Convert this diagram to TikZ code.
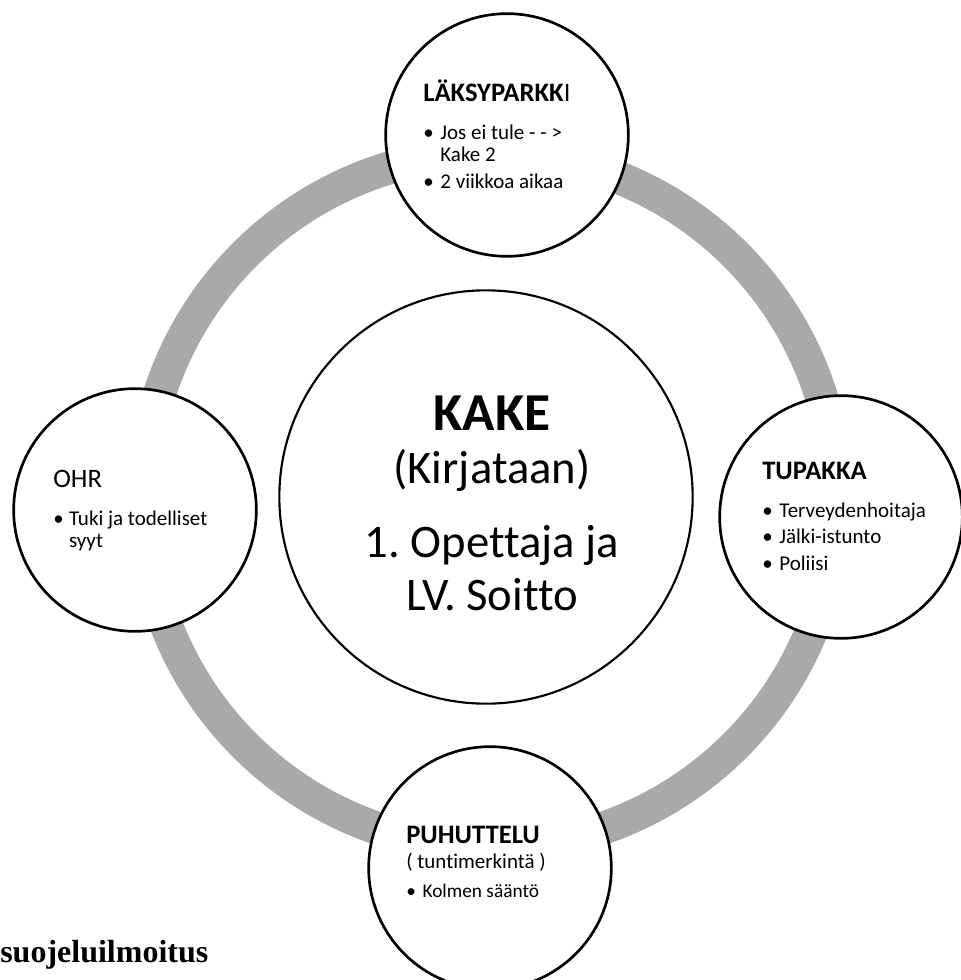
\documentclass[tikz,border=0pt]{standalone}
\usepackage{fontspec}
\setmainfont{Carlito}[Ligatures=NoCommon]
\newfontfamily\timesfont{Liberation Serif}
\usetikzlibrary{positioning}
\frenchspacing

\definecolor{ringgray}{RGB}{169,169,169}
\newcommand{\headsize}{\fontsize{20}{22}\selectfont}
\tikzset{
  bubble/.style={circle, draw=black, fill=white, line width=2pt, minimum size=182pt, inner sep=0pt},
  hub/.style={bubble, line width=1.6pt, minimum size=310pt},
  blurb/.style={inner sep=0pt, anchor=base west, font=\fontsize{15.75}{16.5}\selectfont}
}

\begin{document}
\begin{tikzpicture}[x=0.75pt, y=-0.75pt]
\useasboundingbox (0,0) rectangle (960,980);

% the grey ring behind everything
\coordinate (mid) at (490,500);
\draw[ringgray, line width=24.75pt] (mid) circle [radius=260.25pt];

% circles
\node[bubble] (parkki) at (507,135) {};
\node[bubble] (tupakka) at (841,517) {};
\node[bubble] (ohr) at (135,510) {};
\node[bubble] (puhuttelu) at (490,868) {};
\node[hub] (kake) at (486,497) {};

% texts
\node[inner sep=0pt, anchor=base, font=\fontsize{35}{39.75}\selectfont] (kaketext) at (492,430) {\begin{tabular}[t]{@{}c@{}}
		{\fontsize{40}{40}\selectfont\textbf{KAKE}} \\
		(Kirjataan) \\[15.75pt]
		1. Opettaja ja \\
		LV. Soitto
\end{tabular}};

\node[blurb] (parkkitext) at (423,102) {\begin{tabular}[t]{@{}l@{\hspace{5pt}}l@{}}
		\multicolumn{2}{@{}l@{}}{\headsize\textbf{LÄKSYPARKK}I} \\[12pt]
		\textbullet & Jos ei tule - - > \\
		& Kake 2 \\[3.75pt]
		\textbullet & 2 viikkoa aikaa
\end{tabular}};

\node[blurb] (tupakkatext) at (762,479) {\begin{tabular}[t]{@{}l@{\hspace{5pt}}l@{}}
		\multicolumn{2}{@{}l@{}}{\headsize\textbf{TUPAKKA}} \\[12pt]
		\textbullet & Terveydenhoitaja \\[3.5pt]
		\textbullet & Jälki-istunto \\[3.5pt]
		\textbullet & Poliisi
\end{tabular}};

\node[blurb] (ohrtext) at (53,487) {\begin{tabular}[t]{@{}l@{\hspace{4pt}}l@{}}
		\multicolumn{2}{@{}l@{}}{\headsize OHR} \\[12pt]
		\textbullet & Tuki ja todelliset \\
		& syyt
\end{tabular}};

\node[blurb] (puhuttelutext) at (406,843) {\begin{tabular}[t]{@{}l@{\hspace{5pt}}l@{}}
		\multicolumn{2}{@{}l@{}}{\headsize\textbf{PUHUTTELU}} \\[2.25pt]
		\multicolumn{2}{@{}l@{}}{( tuntimerkintä )} \\[5.25pt]
		{\fontsize{14.5}{16}\selectfont\textbullet} & {\fontsize{14.5}{16}\selectfont Kolmen sääntö}
\end{tabular}};

\node[anchor=base west, inner sep=0pt, font=\timesfont\bfseries\fontsize{24}{28}\selectfont] (notice) at (0,962) {suojeluilmoitus};
\end{tikzpicture}
\end{document}
